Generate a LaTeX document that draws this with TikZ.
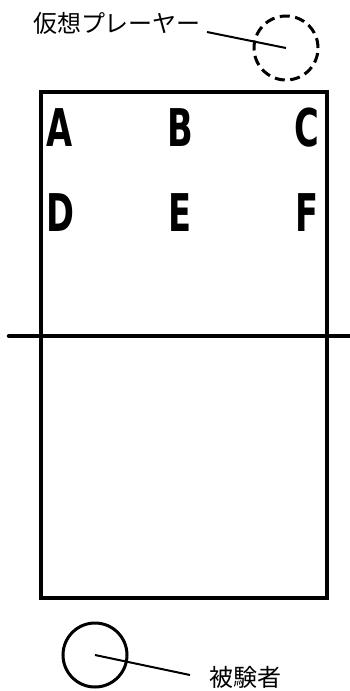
\documentclass[tikz,border=0pt]{standalone}
\usepackage{fontspec}
\usepackage{tikz}
\usetikzlibrary{positioning}
\newfontfamily\jpfont{Noto Sans CJK JP}
\newfontfamily\posfont[FakeStretch=0.72]{DejaVu Sans Condensed Bold}
\tikzset{
  court/.style={draw=black,line width=4.5pt},
  netline/.style={draw=black,line width=4.5pt,line cap=round},
  posletter/.style={inner sep=0pt,font=\posfont\fontsize{52}{52}\selectfont},
  player/.style={circle,draw=black,line width=3pt,minimum size=64pt,inner sep=0pt},
  virtualplayer/.style={player,dash pattern=on 10pt off 5.5pt},
  lead/.style={draw=black,line width=2pt},
  jplabel/.style={inner sep=0pt,font=\jpfont\fontsize{24}{24}\selectfont}
}
\begin{document}
\begin{tikzpicture}[x=1pt,y=-1pt]
\useasboundingbox (0,0) rectangle (350,691);
% court and net
\draw[court] (41,92) rectangle (327,598);
\draw[netline] (9,336) -- (350,336);
% positions
\node[posletter] (posA) at (60,128) {A};
\node[posletter] (posB) at (180,128) {B};
\node[posletter] (posC) at (307,128) {C};
\node[posletter] (posD) at (60,213) {D};
\node[posletter] (posE) at (180,213) {E};
\node[posletter] (posF) at (307,213) {F};
% virtual player
\node[virtualplayer] (vplayer) at (286,48) {};
\node[jplabel] (vlabel) at (117,23) {仮想プレーヤー};
\coordinate (vlead) at (207,32);
\draw[lead] (vlead) -- (vplayer.center);
% subject
\node[player] (subject) at (95,655) {};
\node[jplabel] (slabel) at (245,677) {被験者};
\coordinate (slead) at (190,675);
\draw[lead] (subject.center) -- (slead);
\end{tikzpicture}
\end{document}
